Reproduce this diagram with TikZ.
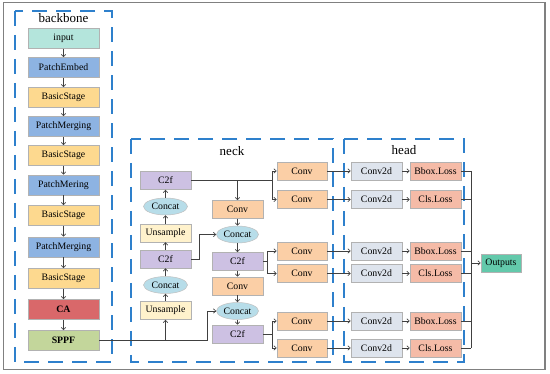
\documentclass[tikz,border=0pt]{standalone}
\usepackage{fontspec}
\setmainfont{Liberation Serif}
\usetikzlibrary{arrows.meta,shapes.geometric,calc}
\definecolor{cInput}{HTML}{B4E5DC}
\definecolor{cBlue}{HTML}{8DB3E2}
\definecolor{cStage}{HTML}{FDD98F}
\definecolor{cCA}{HTML}{D9686A}
\definecolor{cSPPF}{HTML}{C3D69B}
\definecolor{cC2f}{HTML}{CDC1E3}
\definecolor{cUns}{HTML}{FFF2CC}
\definecolor{cConv}{HTML}{FBCFA6}
\definecolor{cCat}{HTML}{B7DDE9}
\definecolor{cC2d}{HTML}{DEE4ED}
\definecolor{cLoss}{HTML}{F5BBA7}
\definecolor{cOut}{HTML}{63C9AB}
\definecolor{dblue}{HTML}{2E80CC}
\begin{document}
\begin{tikzpicture}[x=1pt,y=-1pt,
  bx/.style={rectangle, draw=black!30, line width=0.5pt, minimum height=18pt, inner sep=0pt, font=\fontsize{9.8}{11}\selectfont},
  bb/.style={bx, minimum width=71pt, minimum height=20pt},
  nb/.style={bx, minimum width=51pt},
  cat/.style={ellipse, draw=black!25, fill=cCat, line width=0.5pt, minimum width=44pt, minimum height=17pt, inner sep=0pt, font=\fontsize{9.8}{11}\selectfont},
  arr/.style={-{Straight Barb[length=2.5pt,width=4.5pt]}, line width=0.6pt, draw=black!75},
  ln/.style={line width=0.6pt, draw=black!75},
  dbox/.style={draw=dblue, line width=1.4pt, dash pattern=on 15pt off 9pt},
  ttl/.style={font=\fontsize{13}{15}\selectfont, inner sep=0pt}]
\useasboundingbox (0,0) rectangle (550,374);
\fill[white] (0,0) rectangle (550,374);
\draw[black!50, line width=1.5pt] (3.5,2.5) rectangle (545,369.5);

% dashed groups
\draw[dbox] (15,11) rectangle (112,362);
\draw[dbox] (131,139) rectangle (333,362);
\draw[dbox] (344,139) rectangle (464,362);
\node[ttl] (tb) at (63.5,18.5) {backbone};
\node[ttl] (tn) at (232,151) {neck};
\node[ttl] (th) at (404,150) {head};

% backbone
\node[bb, fill=cInput] (b1) at (63.5,38.5) {input};
\node[bb, fill=cBlue] (b2) at (63.5,67.5) {PatchEmbed};
\node[bb, fill=cStage] (b3) at (63.5,97.5) {BasicStage};
\node[bb, fill=cBlue] (b4) at (63.5,126.5) {PatchMerging};
\node[bb, fill=cStage] (b5) at (63.5,155.5) {BasicStage};
\node[bb, fill=cBlue] (b6) at (63.5,185) {PatchMering};
\node[bb, fill=cStage] (b7) at (63.5,215.5) {BasicStage};
\node[bb, fill=cBlue] (b8) at (63.5,247) {PatchMerging};
\node[bb, fill=cStage] (b9) at (63.5,278.5) {BasicStage};
\node[bb, fill=cCA] (b10) at (63.5,309.5) {\textbf{CA}};
\node[bb, fill=cSPPF] (b11) at (63.5,340.5) {\textbf{SPPF}};
\foreach \i [count=\j from 2] in {1,...,10}
  \draw[arr] (b\i.south) -- (b\j.north);

% neck left column
\node[nb, fill=cC2f] (nc2f1) at (165.5,180.5) {C2f};
\node[cat] (ncat1) at (165.5,206.5) {Concat};
\node[nb, fill=cUns] (nus1) at (165.5,233) {Unsample};
\node[nb, fill=cC2f] (nc2f2) at (165.5,259) {C2f};
\node[cat] (ncat2) at (165.5,285) {Concat};
\node[nb, fill=cUns] (nus2) at (165.5,310.5) {Unsample};
% neck middle column
\node[nb, fill=cConv] (mconv1) at (237.5,209.5) {Conv};
\node[cat, minimum width=42pt] (mcat1) at (237.5,234.5) {Concat};
\node[nb, fill=cC2f] (mc2f1) at (237.5,261.5) {C2f};
\node[nb, fill=cConv] (mconv2) at (237.5,286) {Conv};
\node[cat, minimum width=42pt] (mcat2) at (237.5,311) {Concat};
\node[nb, fill=cC2f] (mc2f2) at (237.5,334) {C2f};
% neck right convs and head conv2d
\foreach \k/\y in {1/171,2/199.5,3/251,4/273.5,5/321,6/348}{
  \node[nb, fill=cConv, minimum width=50pt] (nconv\k) at (302,\y) {Conv};
  \node[nb, fill=cC2d] (hc\k) at (376.5,\y) {Conv2d};
}
\node[nb, fill=cLoss] (hl1) at (435.5,171) {Bbox.Loss};
\node[nb, fill=cLoss] (hl2) at (435.5,199.5) {Cls.Loss};
\node[nb, fill=cLoss] (hl3) at (435.5,251) {Bbox.Loss};
\node[nb, fill=cLoss] (hl4) at (435.5,273.5) {Cls.Loss};
\node[nb, fill=cLoss] (hl5) at (435.5,321) {Bbox.Loss};
\node[nb, fill=cLoss] (hl6) at (435.5,348) {Cls.Loss};
\node[bx, fill=cOut, minimum width=40pt] (out) at (501,263) {Outputs};

% neck connectors
\coordinate (s1) at (207,340.5);
\draw[arr] (b11.east) -- (s1) |- (mcat2.west);
\draw[arr] (b11.east -| nus2.south) -- (nus2.south);
\draw[arr] (nus2.north) -- (ncat2.south);
\draw[arr] (ncat2.north) -- (nc2f2.south);
\draw[arr] (nc2f2.north) -- (nus1.south);
\draw[arr] (nus1.north) -- (ncat1.south);
\draw[arr] (ncat1.north) -- (nc2f1.south);

\coordinate (f1) at (272,180.5);
\draw[ln] (nc2f1.east) -- (f1);
\draw[arr] (f1) |- (nconv1.west);
\draw[arr] (f1) |- (nconv2.west);
\draw[arr] (nc2f1.east -| mconv1.north) -- (mconv1.north);

\coordinate (f2) at (199,259);
\draw[arr] (nc2f2.east) -- (f2) |- (mcat1.west);

\draw[arr] (mconv1.south) -- (mcat1.north);
\draw[arr] (mcat1.south) -- (mc2f1.north);
\draw[arr] (mc2f1.south) -- (mconv2.north);
\draw[arr] (mconv2.south) -- (mcat2.north);
\draw[arr] (mcat2.south) -- (mc2f2.north);

\coordinate (f3) at (267.5,261.5);
\draw[ln] (mc2f1.east) -- (f3);
\draw[arr] (f3) |- (nconv3.west);
\draw[arr] (f3) |- (nconv4.west);

\coordinate (f4) at (272,334);
\draw[ln] (mc2f2.east) -- (f4);
\draw[arr] (f4) |- (nconv5.west);
\draw[arr] (f4) |- (nconv6.west);

% head connectors
\coordinate (cl) at (471,263);
\foreach \k in {1,...,6}{
  \draw[arr] (nconv\k.east) -- (hc\k.west);
  \draw[arr] (hc\k.east) -- (hl\k.west);
  \draw[ln] (hl\k.east) -- (hl\k.east -| cl);
}
\draw[ln] (hl1.east -| cl) -- (hl6.east -| cl);
\draw[arr] (cl) -- (out.west);
\end{tikzpicture}
\end{document}
